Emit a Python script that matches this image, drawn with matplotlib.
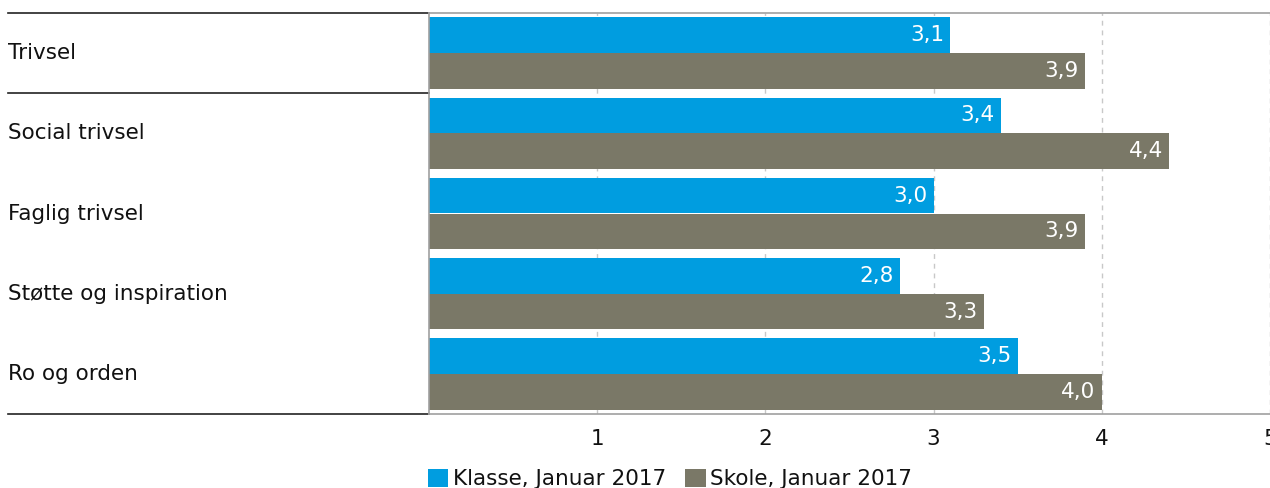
import matplotlib
matplotlib.use("Agg")
import matplotlib.pyplot as plt
import matplotlib.transforms as mtransforms
import numpy as np

categories = ["Trivsel", "Social trivsel", "Faglig trivsel", "Støtte og inspiration", "Ro og orden"]
klasse = [3.1, 3.4, 3.0, 2.8, 3.5]
skole = [3.9, 4.4, 3.9, 3.3, 4.0]
series_names = ["Klasse, Januar 2017", "Skole, Januar 2017"]
x_ticks = [1, 2, 3, 4, 5]

blue = "#009de0"
grey = "#7a7867"
plt.rcParams["font.family"] = "DejaVu Sans"
plt.rcParams["font.size"] = 15.5

fig = plt.figure(figsize=(12.7, 4.88), dpi=100)
ax = fig.add_axes([429 / 1270, 1 - 414 / 488, 841 / 1270, 401 / 488])

y = np.arange(len(categories))
h = 0.445
b1 = ax.barh(y - h / 2, klasse, height=h, color=blue, label=series_names[0], zorder=2)
b2 = ax.barh(y + h / 2, skole, height=h, color=grey, label=series_names[1], zorder=2)

# value labels inside bar ends, comma decimal
for bars, vals in [(b1, klasse), (b2, skole)]:
    for rect, v in zip(bars, vals):
        ax.annotate(f"{v:.1f}".replace(".", ","),
                    xy=(v, rect.get_y() + rect.get_height() / 2),
                    xytext=(-4.5, 0), textcoords="offset points",
                    ha="right", va="center", color="white", zorder=3)

ax.set_xlim(0, 5)
ax.set_ylim(len(categories) - 0.5, -0.5)
ax.set_xticks(x_ticks)
ax.set_xticklabels([str(t) for t in x_ticks])
ax.set_yticks([])
ax.tick_params(axis="x", length=0, pad=11, colors="#111111")
ax.grid(axis="x", color="#c8c8c8", linestyle=(0, (3.5, 3.5)), linewidth=1, zorder=1)
ax.set_axisbelow(True)

for side in ["top", "bottom", "left"]:
    ax.spines[side].set_color("#a0a0a0")
    ax.spines[side].set_linewidth(1.2)
ax.spines["right"].set_visible(False)

# category labels and separator lines on the left
trans = mtransforms.blended_transform_factory(ax.transAxes, ax.transData)
x_left = -421 / 841
for i, cat in enumerate(categories):
    ax.text(x_left, i, cat, transform=trans, ha="left", va="center", color="#111111")
for yy in [-0.5, 0.5, len(categories) - 0.5]:
    ax.plot([x_left, 0], [yy, yy], transform=trans, color="#222222",
            linewidth=1.2, clip_on=False)

fig.legend(handles=[b1, b2], labels=series_names, loc="center left",
           bbox_to_anchor=(428 / 1270, 9 / 488), ncol=2, frameon=False,
           handlelength=0.95, handleheight=0.95, handletextpad=0.2,
           columnspacing=0.9, borderpad=0, borderaxespad=0,
           labelcolor="#111111")

fig.savefig("out.png", dpi=100)
